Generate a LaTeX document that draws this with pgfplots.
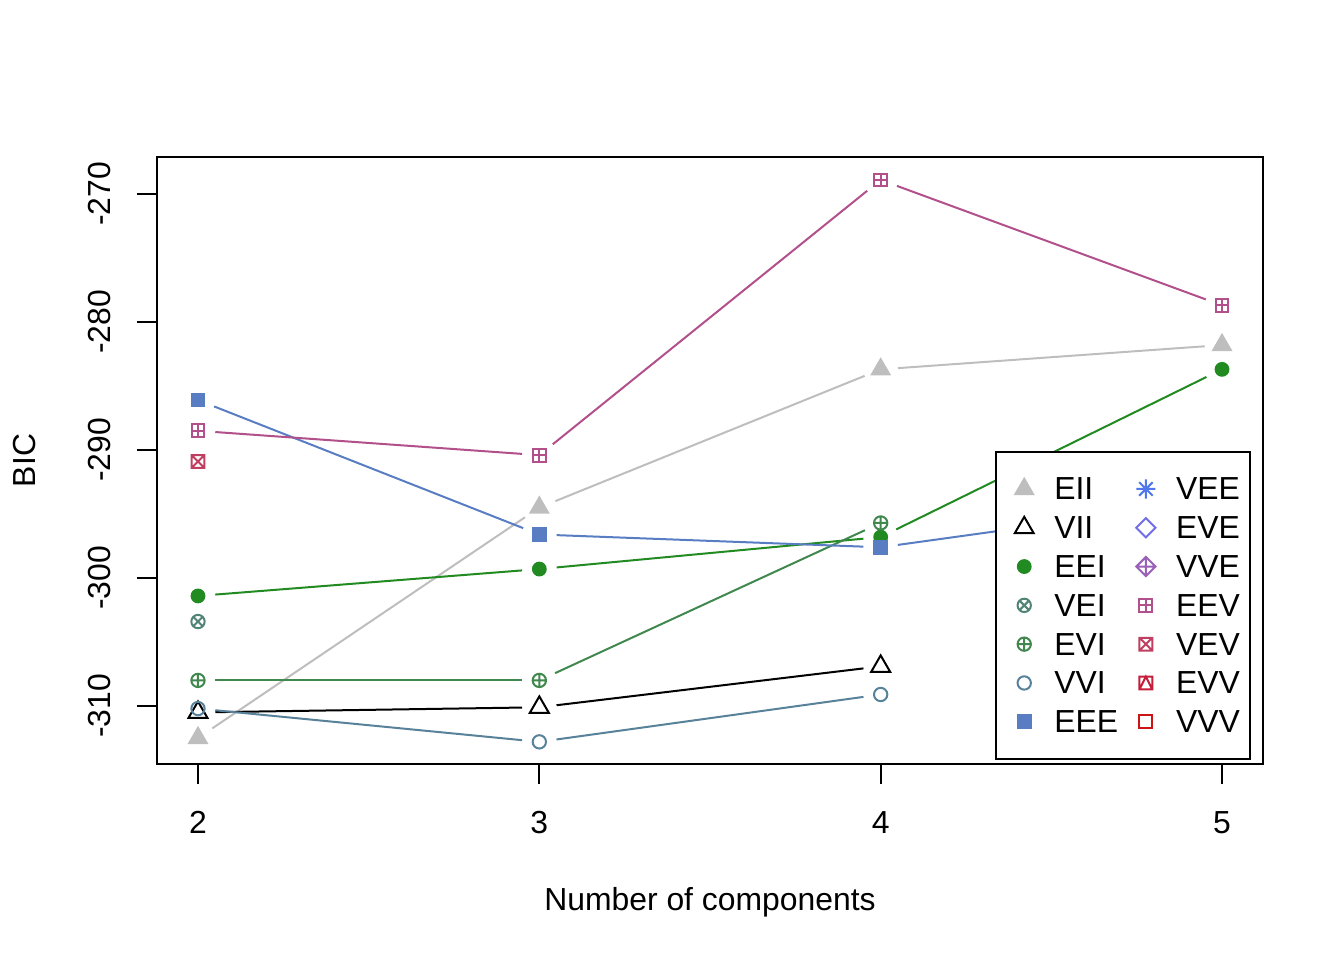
\documentclass[border=0pt]{standalone}
\usepackage{fontspec}
\setmainfont{Liberation Sans}
\usepackage{pgfplots}
\pgfplotsset{compat=1.18}

\definecolor{cEII}{HTML}{BEBEBE}
\definecolor{cVII}{HTML}{000000}
\definecolor{cEEI}{HTML}{218B21}
\definecolor{cEVI}{HTML}{41884F}
\definecolor{cVEI}{HTML}{508476}
\definecolor{cVVI}{HTML}{58819A}
\definecolor{cEEE}{HTML}{597DC3}
\definecolor{cVEE}{HTML}{5178EA}
\definecolor{cEVE}{HTML}{716EE7}
\definecolor{cVVE}{HTML}{9B60B8}
\definecolor{cEEV}{HTML}{B2508B}
\definecolor{cVEV}{HTML}{C03F60}
\definecolor{cEVV}{HTML}{C41E3A}
\definecolor{cVVV}{HTML}{CC1414}

\pgfdeclareplotmark{Rdiamond}{%
  \pgfpathmoveto{\pgfqpoint{0pt}{\pgfplotmarksize}}%
  \pgfpathlineto{\pgfqpoint{\pgfplotmarksize}{0pt}}%
  \pgfpathlineto{\pgfqpoint{0pt}{-\pgfplotmarksize}}%
  \pgfpathlineto{\pgfqpoint{-\pgfplotmarksize}{0pt}}%
  \pgfpathclose\pgfusepathqstroke}
\pgfdeclareplotmark{Rdiamondplus}{%
  \pgfpathmoveto{\pgfqpoint{0pt}{\pgfplotmarksize}}%
  \pgfpathlineto{\pgfqpoint{\pgfplotmarksize}{0pt}}%
  \pgfpathlineto{\pgfqpoint{0pt}{-\pgfplotmarksize}}%
  \pgfpathlineto{\pgfqpoint{-\pgfplotmarksize}{0pt}}%
  \pgfpathclose
  \pgfpathmoveto{\pgfqpoint{0pt}{\pgfplotmarksize}}%
  \pgfpathlineto{\pgfqpoint{0pt}{-\pgfplotmarksize}}%
  \pgfpathmoveto{\pgfqpoint{\pgfplotmarksize}{0pt}}%
  \pgfpathlineto{\pgfqpoint{-\pgfplotmarksize}{0pt}}%
  \pgfusepathqstroke}
\pgfdeclareplotmark{sqplus}{%
  \pgfpathrectangle{\pgfqpoint{-\pgfplotmarksize}{-\pgfplotmarksize}}{\pgfqpoint{2\pgfplotmarksize}{2\pgfplotmarksize}}%
  \pgfpathmoveto{\pgfqpoint{0pt}{\pgfplotmarksize}}%
  \pgfpathlineto{\pgfqpoint{0pt}{-\pgfplotmarksize}}%
  \pgfpathmoveto{\pgfqpoint{\pgfplotmarksize}{0pt}}%
  \pgfpathlineto{\pgfqpoint{-\pgfplotmarksize}{0pt}}%
  \pgfusepathqstroke}
\pgfdeclareplotmark{sqcross}{%
  \pgfpathrectangle{\pgfqpoint{-\pgfplotmarksize}{-\pgfplotmarksize}}{\pgfqpoint{2\pgfplotmarksize}{2\pgfplotmarksize}}%
  \pgfpathmoveto{\pgfqpoint{-\pgfplotmarksize}{-\pgfplotmarksize}}%
  \pgfpathlineto{\pgfqpoint{\pgfplotmarksize}{\pgfplotmarksize}}%
  \pgfpathmoveto{\pgfqpoint{-\pgfplotmarksize}{\pgfplotmarksize}}%
  \pgfpathlineto{\pgfqpoint{\pgfplotmarksize}{-\pgfplotmarksize}}%
  \pgfusepathqstroke}
\pgfdeclareplotmark{sqtri}{%
  \pgfpathrectangle{\pgfqpoint{-\pgfplotmarksize}{-\pgfplotmarksize}}{\pgfqpoint{2\pgfplotmarksize}{2\pgfplotmarksize}}%
  \pgfpathmoveto{\pgfqpoint{-\pgfplotmarksize}{-\pgfplotmarksize}}%
  \pgfpathlineto{\pgfqpoint{0pt}{\pgfplotmarksize}}%
  \pgfpathlineto{\pgfqpoint{\pgfplotmarksize}{-\pgfplotmarksize}}%
  \pgfusepathqstroke}
\pgfdeclareplotmark{Rast}{%
  \pgfpathmoveto{\pgfqpoint{0pt}{\pgfplotmarksize}}%
  \pgfpathlineto{\pgfqpoint{0pt}{-\pgfplotmarksize}}%
  \pgfpathmoveto{\pgfqpoint{\pgfplotmarksize}{0pt}}%
  \pgfpathlineto{\pgfqpoint{-\pgfplotmarksize}{0pt}}%
  \pgfpathmoveto{\pgfqpoint{-0.7\pgfplotmarksize}{-0.7\pgfplotmarksize}}%
  \pgfpathlineto{\pgfqpoint{0.7\pgfplotmarksize}{0.7\pgfplotmarksize}}%
  \pgfpathmoveto{\pgfqpoint{-0.7\pgfplotmarksize}{0.7\pgfplotmarksize}}%
  \pgfpathlineto{\pgfqpoint{0.7\pgfplotmarksize}{-0.7\pgfplotmarksize}}%
  \pgfusepathqstroke}

\pgfplotsset{
  seg/.style={line width=0.75bp, mark=none, shorten <=6.5bp, shorten >=6.5bp, forget plot},
  pts/.style={only marks, forget plot, mark options={solid, line width=0.75bp}},
  mEII/.style={color=cEII, mark=triangle*, mark size=3.8bp},
  mVII/.style={color=cVII, mark=triangle, mark size=4.1bp},
  mEEI/.style={color=cEEI, mark=*, mark size=2.4bp},
  mVEI/.style={color=cVEI, mark=otimes, mark size=2.5bp},
  mEVI/.style={color=cEVI, mark=oplus, mark size=2.5bp},
  mVVI/.style={color=cVVI, mark=o, mark size=2.5bp},
  mEEE/.style={color=cEEE, mark=square*, mark size=2.4bp},
  mVEE/.style={color=cVEE, mark=Rast, mark size=3.6bp},
  mEVE/.style={color=cEVE, mark=Rdiamond, mark size=3.6bp},
  mVVE/.style={color=cVVE, mark=Rdiamondplus, mark size=3.6bp},
  mEEV/.style={color=cEEV, mark=sqplus, mark size=2.4bp},
  mVEV/.style={color=cVEV, mark=sqcross, mark size=2.4bp},
  mEVV/.style={color=cEVV, mark=sqtri, mark size=2.4bp},
  mVVV/.style={color=cVVV, mark=square, mark size=2.4bp},
}

\begin{document}
\begin{tikzpicture}
\useasboundingbox (-58.875bp,-73.5bp) rectangle (445.125bp,286.5bp);
\begin{axis}[
  at={(0,0)}, anchor=south west,
  width=414.75bp, height=227.625bp, scale only axis,
  xmin=1.8799, xmax=5.1201, ymin=-314.53, ymax=-267.11,
  xtick={2,3,4,5}, xticklabels={2,3,4,5},
  ytick={-310,-300,-290,-280,-270}, yticklabels={-310,-300,-290,-280,-270},
  tick align=outside, major tick length=7.5bp,
  xtick pos=bottom, ytick pos=left,
  tick style={black, line width=0.75bp},
  axis line style={line width=0.75bp},
  tick label style={font=\fontsize{12}{14.4}\selectfont},
  xticklabel style={anchor=base, yshift=-18.4bp},
  yticklabel style={xshift=-10.1bp, rotate=90, anchor=base},
  every axis x label/.style={at={(axis description cs:0.5,0)}, yshift=-54.75bp, anchor=base, font=\fontsize{12}{14.4}\selectfont},
  every axis y label/.style={at={(axis description cs:0,0.5)}, xshift=-45.6bp, rotate=90, anchor=base, font=\fontsize{12}{14.4}\selectfont},
  xlabel={Number of components},
  ylabel={BIC},
  legend columns=2,
  legend cell align=left,
  legend image code/.code={\pgfpathrectangle{\pgfpoint{0bp}{-3.15bp}}{\pgfpoint{18bp}{14.55bp}}\pgfusepath{}\draw[#1] plot coordinates {(6.7bp,4.13bp)};},
  legend style={at={(0.7574,0.5157)}, anchor=north west, draw=black, line width=0.75bp, fill=white,
    inner xsep=4bp, inner ysep=6.6bp, row sep=0pt, column sep=0pt,
    font=\fontsize{12}{14.4}\selectfont,
    nodes={inner sep=0pt, text height=11.4bp, text depth=3.15bp, anchor=base west},
    /tikz/every even column/.append style={column sep=3.7bp}},
]
% EII
\addplot[seg, cEII] coordinates {(2,-312.5) (3,-294.5)};
\addplot[seg, cEII] coordinates {(3,-294.5) (4,-283.7)};
\addplot[seg, cEII] coordinates {(4,-283.7) (5,-281.8)};
\addplot[pts, mEII] coordinates {(2,-312.5) (3,-294.5) (4,-283.7) (5,-281.8)};
% VII
\addplot[seg, cVII] coordinates {(2,-310.5) (3,-310.1)};
\addplot[seg, cVII] coordinates {(3,-310.1) (4,-306.9)};
\addplot[pts, mVII] coordinates {(2,-310.5) (3,-310.1) (4,-306.9)};
% EEI
\addplot[seg, cEEI] coordinates {(2,-301.4) (3,-299.3)};
\addplot[seg, cEEI] coordinates {(3,-299.3) (4,-296.8)};
\addplot[seg, cEEI] coordinates {(4,-296.8) (5,-283.7)};
\addplot[pts, mEEI] coordinates {(2,-301.4) (3,-299.3) (4,-296.8) (5,-283.7)};
% EVI
\addplot[seg, cEVI] coordinates {(2,-308.0) (3,-308.0)};
\addplot[seg, cEVI] coordinates {(3,-308.0) (4,-295.7)};
\addplot[pts, mEVI] coordinates {(2,-308.0) (3,-308.0) (4,-295.7)};
% VEI
\addplot[pts, mVEI] coordinates {(2,-303.4)};
% VVI
\addplot[seg, cVVI] coordinates {(2,-310.2) (3,-312.8)};
\addplot[seg, cVVI] coordinates {(3,-312.8) (4,-309.1)};
\addplot[pts, mVVI] coordinates {(2,-310.2) (3,-312.8) (4,-309.1)};
% EEE
\addplot[seg, cEEE] coordinates {(2,-286.1) (3,-296.6)};
\addplot[seg, cEEE] coordinates {(3,-296.6) (4,-297.6)};
\addplot[seg, cEEE] coordinates {(4,-297.6) (5,-293.9)};
\addplot[pts, mEEE] coordinates {(2,-286.1) (3,-296.6) (4,-297.6) (5,-293.9)};
% EEV
\addplot[seg, cEEV] coordinates {(2,-288.5) (3,-290.4)};
\addplot[seg, cEEV] coordinates {(3,-290.4) (4,-268.9)};
\addplot[seg, cEEV] coordinates {(4,-268.9) (5,-278.7)};
\addplot[pts, mEEV] coordinates {(2,-288.5) (3,-290.4) (4,-268.9) (5,-278.7)};
% VEV
\addplot[pts, mVEV] coordinates {(2,-290.9)};
% legend
\addlegendimage{only marks, mEII}\addlegendentry{EII}
\addlegendimage{only marks, mVEE}\addlegendentry{VEE}
\addlegendimage{only marks, mVII}\addlegendentry{VII}
\addlegendimage{only marks, mEVE}\addlegendentry{EVE}
\addlegendimage{only marks, mEEI}\addlegendentry{EEI}
\addlegendimage{only marks, mVVE}\addlegendentry{VVE}
\addlegendimage{only marks, mVEI}\addlegendentry{VEI}
\addlegendimage{only marks, mEEV}\addlegendentry{EEV}
\addlegendimage{only marks, mEVI}\addlegendentry{EVI}
\addlegendimage{only marks, mVEV}\addlegendentry{VEV}
\addlegendimage{only marks, mVVI}\addlegendentry{VVI}
\addlegendimage{only marks, mEVV}\addlegendentry{EVV}
\addlegendimage{only marks, mEEE}\addlegendentry{EEE}
\addlegendimage{only marks, mVVV}\addlegendentry{VVV}
\end{axis}
\end{tikzpicture}
\end{document}
